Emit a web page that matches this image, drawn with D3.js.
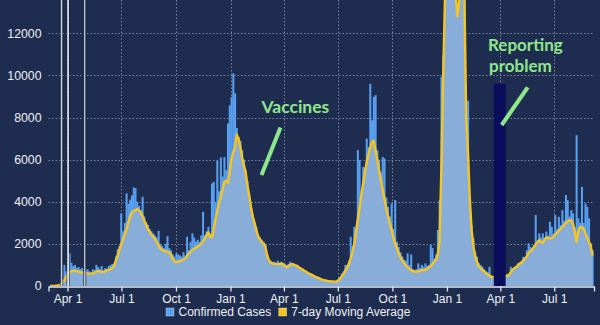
<!DOCTYPE html>
<html><head><meta charset="utf-8">
<script src="https://cdn.jsdelivr.net/npm/d3@7"></script>
<style>html,body{margin:0;padding:0;background:#1e2d4f}svg{display:block}</style>
</head><body>
<svg id="chart" width="600" height="325"></svg>
<script>
// ---- data (3-day bins starting 2020-03-01) ----
const binStart = "2020-03-01";
const binDays = 3;
const cases = [
0,0,10,20,30,60,120,300,1000,700,
900,1550,1100,950,1000,850,900,800,850,700,
750,800,700,650,800,750,1000,900,800,950,
750,850,800,950,1000,1050,1000,1400,1750,1900,
3450,2600,3000,4400,3900,4100,4300,4680,4650,4000,
3800,3600,4240,3300,3000,2900,2700,2600,2500,2400,
2300,2620,2000,1900,1800,2000,2370,1800,1700,1500,
1400,1550,1500,1450,1400,1600,1450,2340,1700,2100,
2500,2300,2100,2200,2100,2400,3520,2400,2600,2810,
2500,4870,4950,4000,5950,4500,6100,5200,6130,5500,
7720,8580,8980,10100,9140,7500,7080,6900,6450,6000,
5500,5000,4300,3700,3400,3000,2800,2400,2300,2200,
2100,2000,1500,1250,1200,1150,1150,1100,1200,1100,
1150,1100,1050,1000,1050,1150,1100,1050,1000,1000,
920,870,820,760,720,650,600,560,520,480,
430,400,360,320,300,280,260,250,240,230,
220,260,320,420,600,700,1000,1000,1200,2340,
1900,2810,2700,6450,5980,4500,5660,5600,7000,6600,
9600,7870,8980,9060,6450,6000,5400,6130,6060,4200,
3760,3300,3920,2700,4080,2100,1860,1600,1400,1250,
1200,1550,1000,1500,800,750,800,1075,850,1000,
900,1075,950,1000,1945,1800,1300,1500,2660,4080,
9930,11000,14000,16000,17000,17500,17000,16500,14000,12300,
13000,16000,15500,14500,6925,8800,3760,2900,2260,1600,
1390,1100,1000,915,800,700,650,915,500,480,
400,400,400,400,400,400,450,550,600,915,
800,900,950,1075,1100,1200,1390,1350,1700,2025,
1860,1800,1950,3370,2100,2500,2300,2500,2300,2580,
2400,3050,2810,2500,3370,2700,3290,2900,3600,3100,
4320,4080,3300,3600,3450,2800,7160,3210,3000,4710,
3000,3920,3760,3210,2025,1700
];
const avg7 = [
0,0,5,10,20,40,60,150,260,420,
560,640,700,730,730,710,690,660,640,620,
610,600,590,590,600,620,690,720,700,670,
660,700,740,780,800,850,950,1200,1450,1700,
1950,2200,2450,2700,3000,3300,3500,3560,3600,3650,
3600,3500,3320,3100,2950,2720,2580,2450,2350,2250,
2100,1950,1800,1720,1680,1650,1630,1600,1480,1300,
1170,1150,1150,1180,1220,1260,1320,1430,1550,1620,
1700,1770,1820,1870,1920,2020,2130,2240,2420,2550,
2350,2300,2700,3150,3550,3950,4250,4600,4950,5000,
4900,5400,6050,6350,6600,7200,7000,6600,6100,5750,
5400,4800,4300,3750,3300,3000,2650,2370,2230,2100,
2020,1900,1500,1230,1120,1070,1060,1040,1040,1050,
1070,1020,950,900,940,1000,1040,1020,980,950,
880,830,780,720,680,620,570,540,500,450,
410,380,340,300,280,260,240,230,220,215,
210,200,260,350,450,580,720,880,1050,1300,
1600,2000,2550,3150,3700,4300,4850,5400,5850,6250,
6550,6850,6900,6450,6000,5500,5050,4600,4150,3700,
3350,3000,2700,2350,2050,1800,1550,1380,1230,1100,
980,900,820,760,700,680,680,700,730,760,
750,770,820,880,960,1050,1150,1250,1500,2100,
5500,9800,13500,15500,16500,17000,16800,15800,14000,12800,
13500,15500,14800,13600,8000,6300,4200,2700,1900,1450,
1150,950,860,780,700,620,560,500,440,420,
400,380,380,380,400,420,460,500,520,640,
780,830,900,980,1060,1100,1200,1300,1390,1560,
1650,1720,1850,1960,2100,2180,2080,2050,2200,2300,
2280,2260,2270,2340,2450,2520,2620,2720,2800,2900,
3000,3080,3120,3130,2950,2600,2100,2600,2800,2780,
2740,2500,2300,2100,1900,1450
];
const tickDates = ["2020-04-01","2020-07-01","2020-10-01","2021-01-01","2021-04-01","2021-07-01","2021-10-01","2022-01-01","2022-04-01","2022-07-01"];
const tickLabels = ["Apr 1","Jul 1","Oct 1","Jan 1","Apr 1","Jul 1","Oct 1","Jan 1","Apr 1","Jul 1"];
const yTicks = [0,2000,4000,6000,8000,10000,12000];
const eventDates = ["2020-03-22","2020-04-02","2020-04-30"];
const eventColors = ["#cfd3dd","#ffffff","#b9c0cd"];
const gapStart = "2022-03-21", gapEnd = "2022-04-10", gapValue = 9600;
const seriesNames = ["Confirmed Cases","7-day Moving Average"];
const annotationTexts = [["Vaccines"],["Reporting","problem"]];

// ---- drawing ----
const P = d3.utcParse("%Y-%m-%d");
const svg = d3.select("#chart");
const W = 600, H = 325;
const COL = {bg:"#1e2d4f", bar:"#5aa0f0", area:"#88add8", line:"#f6c520", grid:"#8f99b3", text:"#eef0f5", green:"#8fe78b", gap:"#090d5b"};

svg.append("rect").attr("width",W).attr("height",H).attr("fill",COL.bg);

const x = d3.scaleUtc().domain([P("2020-02-29"), P("2022-09-06")]).range([48.5, 594]);
const y = d3.scaleLinear().domain([0,12000]).range([286, 33.3]);

const day = 864e5;
const t0 = P(binStart).getTime();
const bins = cases.map((v,i)=>({
  d0:new Date(t0 + i*binDays*day),
  d1:new Date(t0 + (i+1)*binDays*day),
  dc:new Date(t0 + (i+0.5)*binDays*day),
  c:v, a:avg7[i]
}));

svg.append("defs").append("clipPath").attr("id","plot")
  .append("rect").attr("x",48).attr("y",0).attr("width",547).attr("height",286);

// gridlines
const grid = svg.append("g");
grid.selectAll("line.h").data(yTicks.filter(v=>v>0)).join("line")
  .attr("x1",48.5).attr("x2",594).attr("y1",d=>Math.round(y(d))+0.5).attr("y2",d=>Math.round(y(d))+0.5)
  .attr("stroke",COL.grid).attr("stroke-width",1).attr("stroke-dasharray","1.5,2").attr("opacity",0.8);
grid.selectAll("line.v").data(tickDates).join("line")
  .attr("x1",d=>Math.round(x(P(d)))+0.5).attr("x2",d=>Math.round(x(P(d)))+0.5).attr("y1",0).attr("y2",286)
  .attr("stroke",COL.grid).attr("stroke-width",1).attr("stroke-dasharray","1.5,2").attr("opacity",0.8);

const plot = svg.append("g").attr("clip-path","url(#plot)");
plot.selectAll("rect.bar").data(bins).join("rect")
  .attr("x",d=>x(d.d0)).attr("width",d=>x(d.d1)-x(d.d0)+0.25)
  .attr("y",d=>y(d.c)).attr("height",d=>y(0)-y(d.c)).attr("fill",COL.bar);

plot.append("path").datum(bins)
  .attr("d",d3.area().x(d=>x(d.dc)).y0(y(0)).y1(d=>y(d.a)))
  .attr("fill",COL.area);
plot.append("path").datum(bins)
  .attr("d",d3.line().x(d=>x(d.dc)).y(d=>y(d.a)))
  .attr("fill","none").attr("stroke",COL.line).attr("stroke-width",2.4).attr("stroke-linejoin","round");

// event lines
eventDates.forEach((d,i)=>{
  const xx = x(P(d));
  svg.append("line").attr("x1",xx).attr("x2",xx).attr("y1",0).attr("y2",286)
    .attr("stroke","#101a33").attr("stroke-width",3.4).attr("opacity",0.6);
  svg.append("line").attr("x1",xx).attr("x2",xx).attr("y1",0).attr("y2",286)
    .attr("stroke",eventColors[i]).attr("stroke-width",1.5);
});

// reporting gap bar
svg.append("rect").attr("x",x(P(gapStart))).attr("width",x(P(gapEnd))-x(P(gapStart)))
  .attr("y",y(gapValue)).attr("height",y(0)-y(gapValue)).attr("fill",COL.gap);

// x axis
const xAxis = d3.axisBottom(x).tickValues(tickDates.map(P)).tickFormat((d,i)=>tickLabels[i]).tickSize(5).tickSizeOuter(5);
const gx = svg.append("g").attr("transform","translate(0,286.5)").call(xAxis);
gx.select(".domain").attr("stroke","#e6e9f0").attr("stroke-width",1.3);
gx.selectAll(".tick line").attr("stroke","#e6e9f0").attr("stroke-width",1.3);
gx.selectAll("text").attr("fill",COL.text).style("font","12px 'Liberation Sans', Arial, sans-serif");

// y labels
svg.append("g").selectAll("text").data(yTicks).join("text")
  .attr("x",41.5).attr("y",d=>y(d)).attr("dy","0.35em").attr("text-anchor","end")
  .attr("fill",COL.text).style("font","12.3px 'Liberation Sans', Arial, sans-serif").text(d=>d);

// annotations
const af = "bold 17.5px Lato, 'Liberation Sans', sans-serif";
const af2 = "bold 17px Lato, 'Liberation Sans', sans-serif";
svg.append("text").attr("x",261.5).attr("y",112.5).attr("fill",COL.green).style("font",af).text(annotationTexts[0][0]);
svg.append("line").attr("x1",261.5).attr("y1",175).attr("x2",280.5).attr("y2",127.5)
  .attr("stroke",COL.green).attr("stroke-width",4);
svg.append("text").attr("x",488).attr("y",51).attr("fill",COL.green).style("font",af2).text(annotationTexts[1][0]);
svg.append("text").attr("x",489).attr("y",72).attr("fill",COL.green).style("font",af2).text(annotationTexts[1][1]);
svg.append("line").attr("x1",501.7).attr("y1",125).attr("x2",527.7).attr("y2",87.3)
  .attr("stroke",COL.green).attr("stroke-width",4);

// legend
const lg = svg.append("g");
let lx = 166;
[COL.bar, COL.line].forEach((c,i)=>{
  lg.append("rect").attr("x",lx).attr("y",308).attr("width",8).attr("height",8)
    .attr("fill",c).attr("stroke","rgba(255,255,255,0.45)").attr("stroke-width",0.7);
  const t = lg.append("text").attr("x",lx+12.5).attr("y",316).attr("fill",COL.text)
    .style("font","12px 'Liberation Sans', Arial, sans-serif").text(seriesNames[i]);
  lx += 12.5 + t.node().getComputedTextLength() + 7.5;
});
</script>
</body></html>
